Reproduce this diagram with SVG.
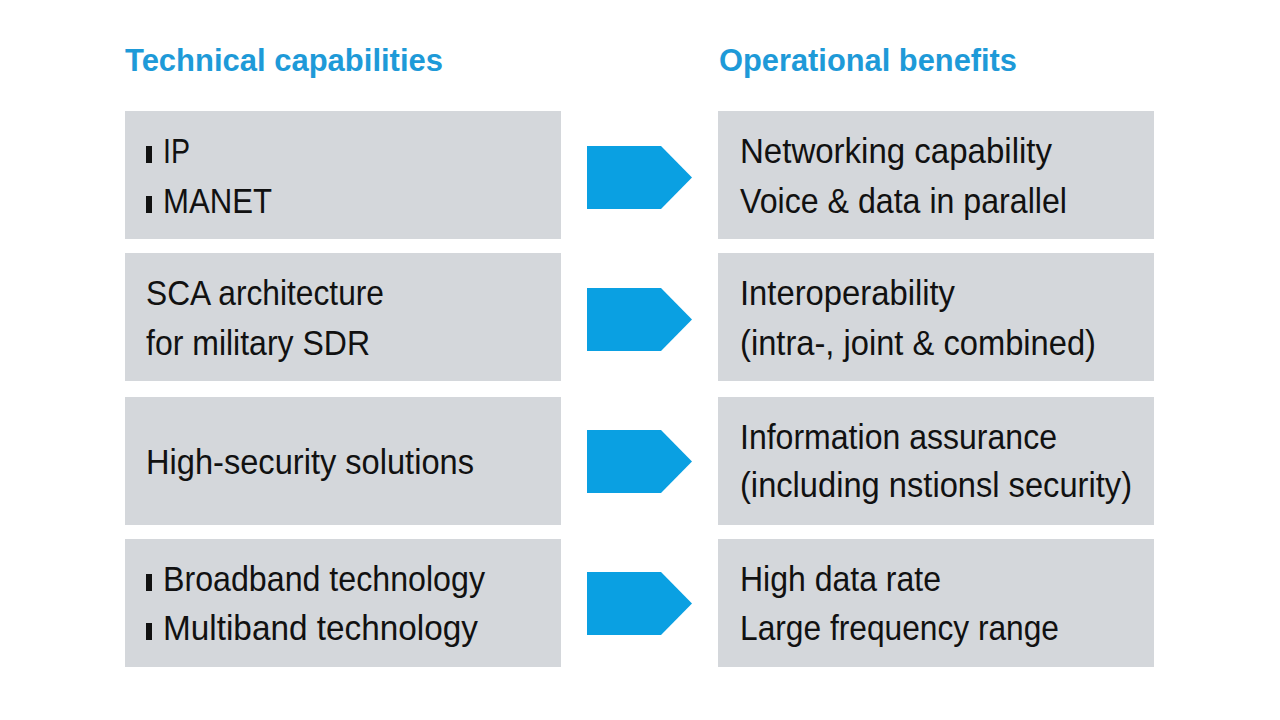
<svg xmlns="http://www.w3.org/2000/svg" width="1280" height="720" viewBox="0 0 1280 720">
<style>
.box{fill:#d4d7db}
.arrow{fill:#0aa0e2}
.hdr{font-family:"Liberation Sans Narrow","Liberation Sans",Arial,sans-serif;font-weight:bold;font-size:32px;fill:#1e9ad8}
.t{font-family:"Liberation Sans Narrow","Liberation Sans",Arial,sans-serif;font-size:35px;fill:#111}
.b{fill:#111}
</style>
<rect width="1280" height="720" fill="#fff"/>
<g id="headers">
<text class="hdr" x="125" y="71" textLength="318" lengthAdjust="spacingAndGlyphs">Technical capabilities</text>
<text class="hdr" x="719" y="71" textLength="298" lengthAdjust="spacingAndGlyphs">Operational benefits</text>
</g>
<g id="connectors">
<polygon class="arrow" points="587,146 661,146 692,177.5 661,209 587,209"/>
<polygon class="arrow" points="587,288 661,288 692,319.5 661,351 587,351"/>
<polygon class="arrow" points="587,430 661,430 692,461.5 661,493 587,493"/>
<polygon class="arrow" points="587,572 661,572 692,603.5 661,635 587,635"/>
</g>
<g id="tc1">
<rect class="box" x="125" y="111" width="436" height="128"/>
<rect class="b" x="146" y="146" width="6" height="17"/>
<text class="t" x="163" y="163" textLength="27" lengthAdjust="spacingAndGlyphs">IP</text>
<rect class="b" x="146" y="196" width="6" height="17"/>
<text class="t" x="163" y="213" textLength="109" lengthAdjust="spacingAndGlyphs">MANET</text>
</g>
<g id="tc2">
<rect class="box" x="125" y="253" width="436" height="128"/>
<text class="t" x="146" y="305" textLength="238" lengthAdjust="spacingAndGlyphs">SCA architecture</text>
<text class="t" x="146" y="355" textLength="224" lengthAdjust="spacingAndGlyphs">for military SDR</text>
</g>
<g id="tc3">
<rect class="box" x="125" y="397" width="436" height="128"/>
<text class="t" x="146" y="474" textLength="328" lengthAdjust="spacingAndGlyphs">High-security solutions</text>
</g>
<g id="tc4">
<rect class="box" x="125" y="539" width="436" height="128"/>
<rect class="b" x="146" y="574" width="6" height="17"/>
<text class="t" x="163" y="591" textLength="322" lengthAdjust="spacingAndGlyphs">Broadband technology</text>
<rect class="b" x="146" y="623" width="6" height="17"/>
<text class="t" x="163" y="640" textLength="315" lengthAdjust="spacingAndGlyphs">Multiband technology</text>
</g>
<g id="ob1">
<rect class="box" x="718" y="111" width="436" height="128"/>
<text class="t" x="740" y="163" textLength="312" lengthAdjust="spacingAndGlyphs">Networking capability</text>
<text class="t" x="740" y="213" textLength="327" lengthAdjust="spacingAndGlyphs">Voice &amp; data in parallel</text>
</g>
<g id="ob2">
<rect class="box" x="718" y="253" width="436" height="128"/>
<text class="t" x="740" y="305" textLength="215" lengthAdjust="spacingAndGlyphs">Interoperability</text>
<text class="t" x="740" y="355" textLength="356" lengthAdjust="spacingAndGlyphs">(intra-, joint &amp; combined)</text>
</g>
<g id="ob3">
<rect class="box" x="718" y="397" width="436" height="128"/>
<text class="t" x="740" y="449" textLength="317" lengthAdjust="spacingAndGlyphs">Information assurance</text>
<text class="t" x="740" y="497" textLength="392" lengthAdjust="spacingAndGlyphs">(including nstionsl security)</text>
</g>
<g id="ob4">
<rect class="box" x="718" y="539" width="436" height="128"/>
<text class="t" x="740" y="591" textLength="201" lengthAdjust="spacingAndGlyphs">High data rate</text>
<text class="t" x="740" y="640" textLength="319" lengthAdjust="spacingAndGlyphs">Large frequency range</text>
</g>
</svg>
